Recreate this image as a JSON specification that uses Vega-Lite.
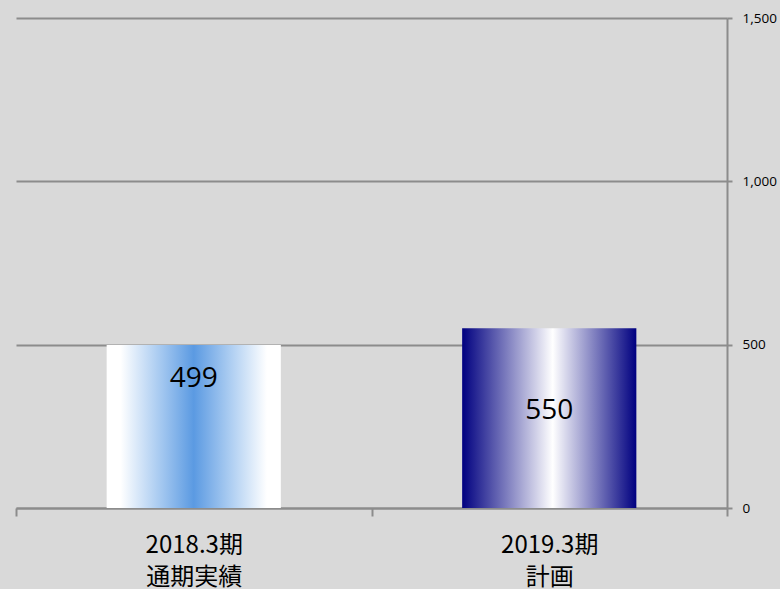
{
  "$schema": "https://vega.github.io/schema/vega-lite/v6.json",
  "width": 711,
  "height": 490,
  "autosize": {"type": "none"},
  "padding": {"left": 16, "top": 18, "right": 53, "bottom": 81},
  "background": "#d9d9d9",
  "config": {
    "view": {"stroke": null},
    "font": "Noto Sans CJK JP"
  },
  "data": {
    "values": [
      {"period": "2018.3期|通期実績", "value": 499},
      {"period": "2019.3期|計画", "value": 550}
    ]
  },
  "encoding": {
    "x": {
      "field": "period",
      "type": "nominal",
      "sort": null,
      "scale": {"paddingInner": 0, "paddingOuter": 0},
      "axis": {
        "title": null,
        "labelAngle": 0,
        "labelExpr": "split(datum.label, '|')",
        "labelFont": "Noto Sans CJK JP",
        "labelFontSize": 24,
        "labelColor": "#000000",
        "labelLineHeight": 32,
        "labelBaseline": "top",
        "labelPadding": 17,
        "tickBand": "extent",
        "tickSize": 8,
        "tickColor": "#8c8c8c",
        "tickWidth": 2,
        "domainColor": "#8c8c8c",
        "domainWidth": 2,
        "grid": false
      }
    },
    "y": {
      "field": "value",
      "type": "quantitative",
      "scale": {"domain": [0, 1500]},
      "axis": {
        "orient": "right",
        "title": null,
        "values": [0, 500, 1000, 1500],
        "format": ",d",
        "labelFont": "Open Sans",
        "labelFontSize": 13.5,
        "labelColor": "#000000",
        "labelPadding": 10,
        "tickSize": 5,
        "tickColor": "#8c8c8c",
        "tickWidth": 2,
        "domainColor": "#8c8c8c",
        "domainWidth": 2,
        "grid": true,
        "gridColor": "#8c8c8c",
        "gridWidth": 2
      }
    }
  },
  "layer": [
    {
      "transform": [{"filter": "datum.value == 499"}],
      "mark": {
        "type": "bar",
        "width": {"band": 0.49},
        "fill": {
          "gradient": "linear",
          "x1": 0, "x2": 1, "y1": 0, "y2": 0,
          "stops": [
            {"offset": 0, "color": "#ffffff"},
            {"offset": 0.08, "color": "#ffffff"},
            {"offset": 0.3, "color": "#a9cbf1"},
            {"offset": 0.5, "color": "#5b9ae2"},
            {"offset": 0.7, "color": "#a9cbf1"},
            {"offset": 0.92, "color": "#ffffff"},
            {"offset": 1, "color": "#ffffff"}
          ]
        }
      }
    },
    {
      "transform": [{"filter": "datum.value == 550"}],
      "mark": {
        "type": "bar",
        "width": {"band": 0.49},
        "fill": {
          "gradient": "linear",
          "x1": 0, "x2": 1, "y1": 0, "y2": 0,
          "stops": [
            {"offset": 0, "color": "#000080"},
            {"offset": 0.52, "color": "#ffffff"},
            {"offset": 1, "color": "#000080"}
          ]
        }
      }
    },
    {
      "transform": [{"filter": "datum.value == 499"}],
      "mark": {"type": "text", "baseline": "middle", "dy": 34, "fontSize": 28, "font": "Open Sans", "color": "#000000"},
      "encoding": {"text": {"field": "value", "type": "quantitative"}}
    },
    {
      "transform": [{"filter": "datum.value == 550"}],
      "mark": {"type": "text", "baseline": "middle", "dy": 83, "fontSize": 28, "font": "Open Sans", "color": "#000000"},
      "encoding": {"text": {"field": "value", "type": "quantitative"}}
    }
  ]
}
